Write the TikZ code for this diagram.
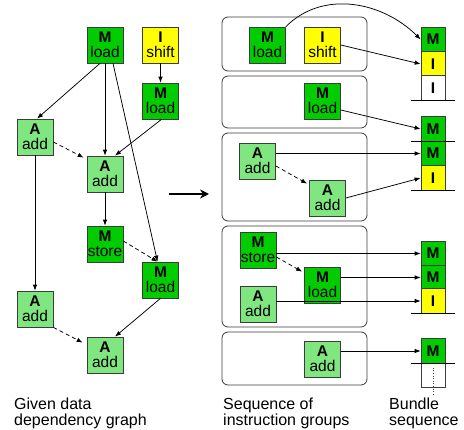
\documentclass[tikz,border=0pt]{standalone}
\usepackage{fontspec}
\setmainfont{Liberation Sans}
\usetikzlibrary{arrows.meta}
\definecolor{mgreen}{RGB}{0,204,0}
\definecolor{agreen}{RGB}{128,230,128}
\definecolor{iyellow}{RGB}{255,255,0}
\definecolor{edgegray}{RGB}{60,60,60}
\begin{document}
\begin{tikzpicture}[x=1pt,y=-1pt,
  op/.style={draw=edgegray,line width=0.7pt,minimum size=36pt,inner sep=0pt,align=center,
    font=\fontsize{15.5}{15}\selectfont},
  mop/.style={op,fill=mgreen},
  aop/.style={op,fill=agreen},
  iop/.style={op,fill=iyellow},
  slot/.style={draw=edgegray,line width=0.7pt,minimum width=24pt,minimum height=24.5pt,inner sep=0pt,
    font=\bfseries\fontsize{15.5}{15}\selectfont},
  groupbox/.style={draw=edgegray,line width=0.8pt,rounded corners=6pt,minimum width=145pt,inner sep=0pt},
  dep/.style={line width=0.75pt,-{Latex[length=6pt,width=4.5pt]}},
  ord/.style={dep,dashed,dash pattern=on 4pt off 3pt},
  stopline/.style={line width=1.2pt},
  lbl/.style={anchor=north west,align=left,inner sep=0pt,font=\fontsize{16}{16}\selectfont}
]
\useasboundingbox (0,0) rectangle (464,430);

% ---- left: dependency graph
\node[mop] (lm1) at (105,45) {\textbf{M}\\load};
\node[iop] (li) at (160.5,45) {\textbf{I}\\shift};
\node[mop] (lm2) at (160.5,101) {\textbf{M}\\load};
\node[aop] (la1) at (35,137) {\textbf{A}\\add};
\node[aop] (la2) at (105,174) {\textbf{A}\\add};
\node[mop] (lms) at (105,244) {\textbf{M}\\store};
\node[mop] (lm3) at (160.5,280) {\textbf{M}\\load};
\node[aop] (la3) at (35,309) {\textbf{A}\\add};
\node[aop] (la4) at (105,355) {\textbf{A}\\add};

\draw[dep] ([xshift=-5pt]lm1.south) -- ([xshift=2pt]la1.north);
\draw[dep] (lm1.south) -- (la2.north);
\draw[dep] ([xshift=8pt]lm1.south) -- ([xshift=-3pt]lm3.north);
\draw[dep] (li.south) -- (lm2.north);
\draw[dep] ([xshift=1pt]lm2.south) -- ([xshift=10pt]la2.north);
\draw[dep] (la2.south) -- (lms.north);
\draw[dep] (la1.south) -- (la3.north);
\draw[dep] (lm3.south) -- ([xshift=10pt]la4.north);
\draw[ord] ([yshift=-5pt]la1.east) -- ([xshift=-3pt,yshift=-2pt]la2.north west);
\draw[ord] ([yshift=3pt]lms.east) -- ([xshift=-3pt]lm3.north);
\draw[ord] (la3.south east) -- ([xshift=-4pt,yshift=-6pt]la4.north west);

% ---- big arrow
\coordinate (bigA) at (169,194);
\coordinate (bigB) at (209,194);
\draw[line width=2.2pt,-{Stealth[length=9pt,width=9pt]}] (bigA) -- (bigB);

% ---- middle: instruction groups
\node[groupbox,minimum height=54pt] (g1) at (294.5,44) {};
\node[groupbox,minimum height=52pt] (g2) at (294.5,102) {};
\node[groupbox,minimum height=88pt] (g3) at (294.5,177) {};
\node[groupbox,minimum height=101pt] (g4) at (294.5,276.5) {};
\node[groupbox,minimum height=53pt] (g5) at (294.5,358.5) {};

\node[mop] (rm1) at (267.5,45) {\textbf{M}\\load};
\node[iop] (ri) at (322.5,45) {\textbf{I}\\shift};
\node[mop] (rm2) at (322.5,101) {\textbf{M}\\load};
\node[aop] (ra1) at (257.5,161) {\textbf{A}\\add};
\node[aop] (ra2) at (327.5,198) {\textbf{A}\\add};
\node[mop] (rms) at (258,250) {\textbf{M}\\store};
\node[mop] (rm3) at (322.5,285) {\textbf{M}\\load};
\node[aop] (ra3) at (258,304) {\textbf{A}\\add};
\node[aop] (ra4) at (322.5,359) {\textbf{A}\\add};

\draw[ord] ([yshift=-5pt]ra1.east) -- ([xshift=-2pt,yshift=-4pt]ra2.north west);
\draw[ord] ([yshift=-7pt]rms.east) -- ([xshift=-2pt,yshift=-5pt]rm3.north west);

% ---- right: bundle sequence
\node[slot,fill=mgreen] (s1) at (433,39.5) {M};
\node[slot,fill=iyellow] (s2) at (433,64) {I};
\node[slot,fill=white] (s3) at (433,88) {I};
\node[slot,fill=mgreen] (s4) at (433,129) {M};
\node[slot,fill=mgreen] (s5) at (433,153.5) {M};
\node[slot,fill=iyellow] (s6) at (433,178) {I};
\node[slot,fill=mgreen] (s7) at (433,253.5) {M};
\node[slot,fill=mgreen] (s8) at (433,277.5) {M};
\node[slot,fill=iyellow] (s9) at (433,301) {I};
\node[slot,fill=mgreen] (s10) at (433,351) {M};
\node[slot,fill=white] (s11) at (433,375.5) {};
\draw[line width=0.6pt,dotted,edgegray] ([yshift=-5pt]s11.north) -- ([yshift=-8pt]s11.south);

\draw[stopline] ([xshift=-10pt]s3.south west) -- ([xshift=10pt]s3.south east);
\draw[stopline] ([xshift=-10pt]s4.south west) -- ([xshift=10pt]s4.south east);
\draw[stopline] ([xshift=-10pt]s6.south west) -- ([xshift=10pt]s6.south east);
\draw[stopline] ([xshift=-10pt]s9.south west) -- ([xshift=10pt]s9.south east);
\draw[stopline] ([xshift=-10pt]s10.south west) -- ([xshift=10pt]s10.south east);

\draw[dep] (rm1.north east) to[out=45,in=135] (s1.west);
\draw[dep] (ri.east) -- (s2.west);
\draw[dep] ([yshift=-9pt]rm2.east) -- (s4.west);
\draw[dep] (ra1.east |- s5.west) -- (s5.west);
\draw[dep] (ra2.east) -- (s6.west);
\draw[dep] (rms.east |- s7.west) -- (s7.west);
\draw[dep] (rm3.east |- s8.west) -- (s8.west);
\draw[dep] (ra3.east |- s9.west) -- (s9.west);
\draw[dep] (ra4.east |- s10.west) -- (s10.west);

% ---- captions
\node[lbl] (t1) at (14,398) {Given data\\dependency graph};
\node[lbl] (t2) at (223,398) {Sequence of\\instruction groups};
\node[lbl] (t3) at (389,398) {Bundle\\sequence};
\end{tikzpicture}
\end{document}
